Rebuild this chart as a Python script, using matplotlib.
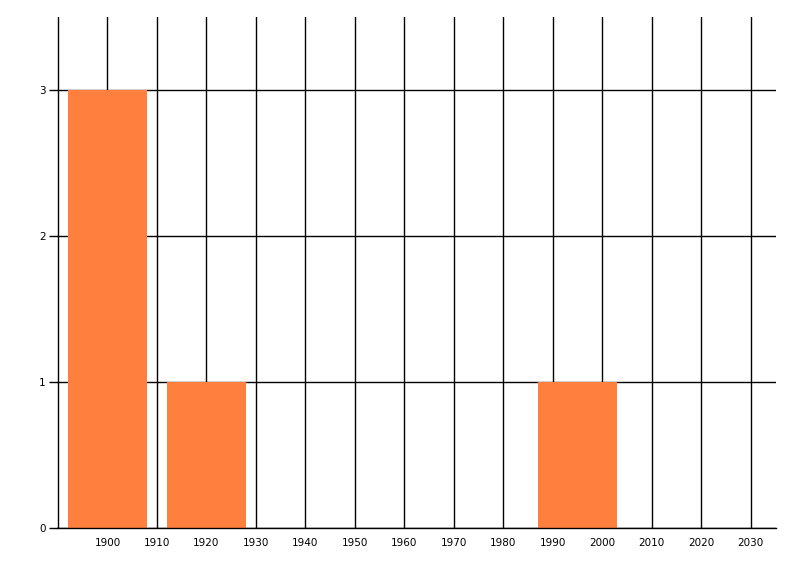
import matplotlib
matplotlib.use("Agg")
import matplotlib.pyplot as plt

# Data
years = [1900, 1920, 1995]
counts = [3, 1, 1]
x_ticks = list(range(1890, 2031, 10))
x_labels = [""] + [str(y) for y in x_ticks[1:]]
y_ticks = [0, 1, 2, 3]

fig = plt.figure(figsize=(8, 5.76), dpi=100)
ax = fig.add_axes([57 / 800, 1 - 528 / 576, (776 - 57) / 800, (528 - 17) / 576])

ax.bar(years, counts, width=16, color="#FF7F3F", zorder=2)

ax.set_xlim(1889.8, 2035.1)
ax.set_ylim(0, 3.5)
ax.set_xticks(x_ticks)
ax.set_xticklabels(x_labels)
ax.set_yticks(y_ticks)

ax.grid(True, color="black", linewidth=1.0)
ax.set_axisbelow(True)

for side in ["left", "top", "right"]:
    ax.spines[side].set_visible(False)
ax.spines["bottom"].set_linewidth(1.0)

ax.tick_params(axis="x", length=0, pad=7, labelsize=7.5)
ax.tick_params(axis="y", length=6, width=1.0, pad=2, labelsize=7.5)

fig.savefig("out.png", dpi=100)
